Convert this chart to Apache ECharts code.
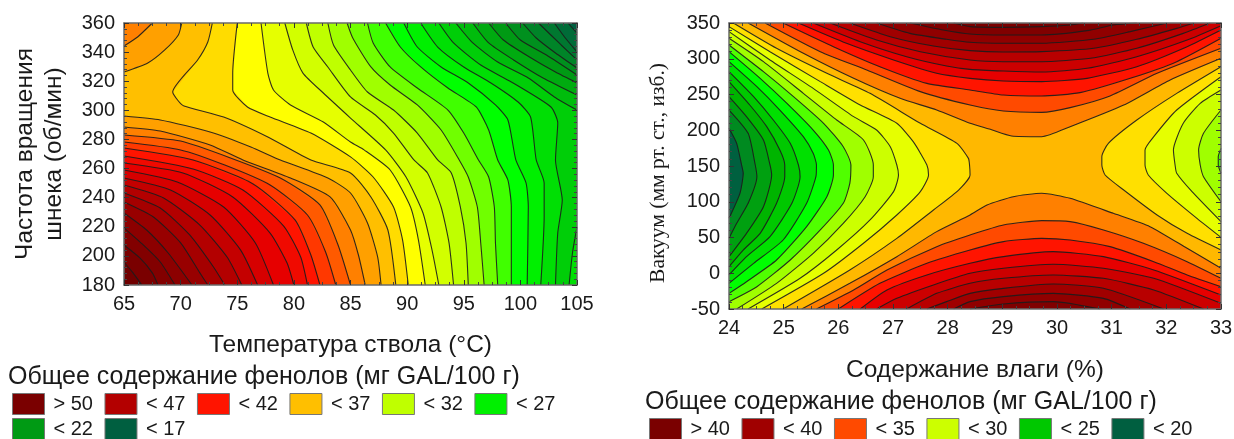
<!DOCTYPE html>
<html><head><meta charset="utf-8">
<style>html,body{margin:0;padding:0;background:#fff}#c{width:1234px;height:439px}</style>
<script src="https://cdn.jsdelivr.net/npm/echarts@6/dist/echarts.min.js"></script>
</head><body><div id="c"></div>
<script>
/* ---------- left panel: isolines, value level and points [temperature, rpm] ---------- */
const leftLevels = [17,18,19,20,21,22,23,24,25,25,26,27,28,29,30,31,32,33,34,35,36,37,37,38,38,39,40,41,42,43,44,45,46,47,48,49,50,51,52];
const leftLines = [
 [[104.2,360],[105,353.1]],
 [[103,360],[103.9,350.4],[105,340.1]],
 [[101.6,360],[103.6,344.9],[105,334.6]],
 [[100.2,360],[101.4,349.7],[103.1,339.4],[105,329.1]],
 [[98.7,360],[100,348.3],[102.3,338],[105,324.3]],
 [[97.2,360],[98.5,348.3],[100.8,336.6],[103.1,326.3],[105,318.8]],
 [[95.8,360],[97.2,346.3],[99.4,334.6],[102,322.2],[105,310.5]],
 [[94.3,360],[95.8,346.3],[98,333.2],[100.7,322.2],[103,309.2],[105,300.2]],
 [[92.8,360],[94.1,346.3],[96.5,331.1],[99.2,319.5],[102.7,302.3],[103.3,291.3],[103.1,265.9],[103.7,238.4],[103.3,215.7],[103.1,180]],
 [[104.3,180],[104.6,202],[105,219.9]],
 [[91.2,360],[92.7,343.5],[95,329.8],[97.4,318.8],[99.8,305.7],[100.9,295.4],[101.4,265.9],[102.1,250.1],[102.1,226.7],[101.8,180]],
 [[89.7,360],[90.9,343.5],[93,329.8],[95.4,318.8],[97.8,303.7],[98.9,293.4],[99.6,265.9],[100.5,250.1],[100.7,233.6],[100.6,180]],
 [[88.1,360],[89.4,343.5],[91.2,329.8],[93.6,315.3],[96.1,302.3],[97.2,286.5],[98,265.9],[98.9,252.1],[99.2,233.6],[99.2,180]],
 [[86.5,360],[87,346.3],[88.5,329.8],[90.9,315.3],[93.6,300.2],[95,284.4],[96.3,265.9],[97.2,254.2],[97.7,233.6],[97.8,208.9],[98,180]],
 [[84.7,360],[85.2,349.7],[86.8,329.8],[88.5,317.4],[90.9,303.7],[93,286.5],[94.6,265.9],[95.4,254.2],[96.2,233.6],[96.5,208.9],[96.8,180]],
 [[83,360],[83.5,344.9],[85,327.7],[86.5,312.6],[88.8,300.2],[90.9,284.4],[92.7,265.9],[93.9,257],[94.7,233.6],[95.2,208.9],[95.4,180]],
 [[81.1,360],[81.7,343.5],[83,329.8],[85,309.2],[87.2,296.8],[88.8,284.4],[90.6,265.9],[91.8,257],[93,233.6],[93.7,208.9],[94.1,180]],
 [[79.2,360],[79.9,341.5],[80.8,325.6],[82.6,311.9],[85,294.7],[88.1,272.8],[89.9,254.2],[91.4,229.5],[92.2,204],[92.8,180]],
 [[77.1,360],[77.7,325.6],[78.2,314],[79.7,303.7],[82.6,292],[85,278.2],[86.2,272.8],[88.5,259],[90.3,233.6],[91,210.9],[91.6,180]],
 [[75,360],[74.6,325.6],[74.6,314],[75.9,302.3],[77.9,295.4],[81.5,284.4],[85,268],[87,254.2],[88.8,233.6],[89.6,210.9],[90.1,180]],
 [[72.8,360],[72.4,347],[71.5,334.6],[69.3,312.6],[69.8,306.4],[70.3,303],[73.8,295.4],[77.7,281.7],[81.5,265.9],[85,257],[86.8,240.5],[88.3,217.8],[89,180]],
 [[65,296.1],[68.2,293.4],[72.6,285.1],[76.2,274.8],[78.8,265.9],[83,253.5],[85,243.2],[86.5,222.6],[87.4,199.2],[87.7,180]],
 [[70.1,360],[69.8,351.8],[68.6,341.5],[67.1,332.5],[65,326.3]],
 [[65,288.6],[68.2,285.8],[72.6,276.2],[75.5,265.9],[79.7,253.5],[83.2,240.5],[85,217.8],[85.7,200.6],[86.3,180]],
 [[67.5,360],[66.2,350.4],[65,344.2]],
 [[65,283.1],[70,278.9],[74.4,267.3],[78.8,253.5],[82.3,235],[83.9,207.5],[85,180]],
 [[65,278.2],[70,272.8],[73.9,262.4],[77.9,248.7],[81.2,228.1],[82.8,202.7],[83.7,180]],
 [[65,274.1],[71.1,265.9],[76.4,249.4],[80.1,224.7],[81.5,200.6],[82.3,180]],
 [[65,268.6],[71.1,259.7],[75.5,245.3],[79.1,220.5],[80.6,199.2],[81.2,180]],
 [[65,263.8],[70.2,257],[74.6,240.5],[77.9,215.7],[79.4,195.1],[80,180]],
 [[65,259],[69.7,250.8],[73.8,233.6],[76.6,208.9],[78.2,180]],
 [[65,253.5],[69.1,245.3],[72.6,228.1],[75.3,204],[76.8,180]],
 [[65,248.7],[68.5,239.8],[71.7,221.2],[74.1,199.2],[75.4,180]],
 [[65,243.2],[68.2,232.9],[70.8,214.4],[72.9,192.4],[73.9,180]],
 [[65,237],[67.6,226.7],[70,208.9],[71.7,188.3],[72.4,180]],
 [[65,229.5],[67,217.8],[68.9,202],[71,180]],
 [[65,219.2],[66.7,207.5],[68.2,195.8],[69.5,180]],
 [[65,207.5],[66.4,198.6],[67.5,188.3],[68,180]],
 [[65,195.8],[65.8,188.3],[66.57,180]]
];
/* ---------- right panel: isolines, [moisture, vacuum] ---------- */
const highLevels = [33,34,35,36,37,38,39,40,41,42];
const topLines = [
 [[24.35,350],[25.36,307.6],[26.28,272.6],[27.13,244.6],[27.8,228.3],[28.41,209.7],[28.78,201.3],[29.17,192],[29.72,191],[30.24,205],[31.22,235.3],[32.07,270.3],[33,300.6]],
 [[24.66,350],[25.67,309.9],[26.52,284.3],[27.5,254],[28.41,235.3],[29.02,226.9],[29.72,225],[30.24,231.6],[30.97,247.9],[31.83,279.6],[33,314.6]],
 [[24.99,350],[25.91,316.9],[26.76,288.9],[27.62,265.6],[28.41,256.3],[29.02,249.3],[29.72,247.9],[30.42,252.6],[31.34,272.6],[32.19,295.9],[33,328.6]],
 [[25.27,350],[26.15,321.6],[27.01,298.3],[27.8,279.6],[28.41,272.6],[29.02,268.9],[29.72,268],[30.55,272.6],[31.46,288.9],[32.38,316.9],[33,340.2]],
 [[25.54,350],[26.4,323.9],[27.25,302.9],[27.98,289.9],[28.41,285.2],[29.02,282.9],[29.72,281.5],[30.55,286.6],[31.46,302.9],[32.38,326.2],[33,346.3]],
 [[25.85,350],[26.7,326.2],[27.5,309.9],[28.41,298.3],[29.02,295.9],[29.72,295.9],[30.61,300.6],[31.46,314.6],[32.31,335.5],[32.8,350]],
 [[26.21,350],[26.95,330.9],[27.74,317.8],[28.41,311.3],[29.02,309.4],[29.72,309.9],[30.67,314.6],[31.46,327.2],[32.19,342.5],[32.5,350]],
 [[26.7,350],[27.31,335.5],[27.98,327.2],[28.41,323],[29.02,321.6],[29.72,321.6],[30.67,327.2],[31.34,337.9],[32.01,350]],
 [[27.31,350],[27.92,340.2],[28.41,334.6],[29.02,333.2],[29.72,333.2],[30.55,339.3],[31.03,347.2],[31.46,350]],
 [[28.11,350],[28.41,344.9],[29.02,343.9],[29.72,344.9],[30.24,347.2],[30.48,350]]
];
const bottomLevels = [33,34,35,36,37,38,39,40,41];
const bottomLines = [
 [[25.33,-50],[26.21,-14.1],[27.07,23.2],[27.8,58.2],[28.41,81.5],[28.72,95.5],[29.2,107.1],[29.72,111.8],[30.24,104.8],[31.03,83.8],[31.7,65.2],[32.38,34.9],[33,6.9]],
 [[25.6,-50],[26.28,-23.4],[26.89,4.6],[27.8,37.2],[28.41,53.5],[29.02,67.5],[29.72,73.6],[30.24,72.2],[30.85,60.5],[31.58,41.9],[32.38,16.2],[33,-7.1]],
 [[26,-50],[26.76,-14.1],[27.62,13.9],[28.41,32.5],[29.02,44.2],[29.72,48.8],[30.24,46.5],[30.97,37.2],[31.77,16.2],[32.38,-2.4],[33,-18.8]],
 [[26.4,-50],[26.89,-23.4],[27.62,-2.4],[28.41,13.9],[29.02,23.2],[29.93,30.2],[30.85,23.2],[31.77,4.6],[33,-30.4]],
 [[26.7,-50],[27.07,-35.1],[27.74,-16.4],[28.41,-0.1],[29.02,6.9],[29.93,12.5],[30.85,6.9],[31.77,-7.1],[33,-42.1]],
 [[27.25,-50],[27.8,-28.1],[28.41,-14.1],[29.02,-7.1],[29.93,-2.4],[30.85,-7.1],[31.77,-23.4],[32.68,-50]],
 [[27.62,-50],[27.98,-39.7],[28.41,-28.1],[29.02,-21.1],[29.93,-15],[30.85,-21.1],[31.95,-50]],
 [[28.11,-50],[28.41,-39.7],[29.02,-32.7],[29.93,-28.1],[30.85,-35.1],[31.34,-50]],
 [[28.41,-50],[29.02,-43],[29.93,-39.7],[30.79,-50]]
];
const westLevels = [32,31,30,29,28,27,26,25,24,23,22,21];
const westLines = [
 [[24.08,350],[24.87,314.6],[25.79,279.6],[26.58,251.6],[27.5,209.7],[28.17,181.7],[28.38,160.7],[28.4,151.4],[28.41,137.4],[28.2,116.4],[27.74,88.5],[27.07,48.8],[26.21,4.6],[24.99,-50]],
 [[24,344.9],[24.75,309.9],[25.67,268],[26.4,235.3],[27.07,209.7],[27.37,184],[27.62,151.4],[27.65,137.4],[27.5,114.1],[27.07,81.5],[26.46,41.9],[25.73,-0.1],[24.6,-50]],
 [[24,337.9],[24.75,298.3],[25.54,258.6],[26.28,219],[26.7,200.3],[26.95,177],[27.07,151.4],[27.1,137.4],[27.01,114.1],[26.58,74.5],[25.97,32.5],[25.3,-7.1],[24.35,-50]],
 [[24,328.6],[24.63,295.9],[25.36,251.6],[25.97,214.3],[26.46,186.4],[26.64,151.4],[26.64,135.1],[26.49,107.1],[26.09,69.8],[25.54,27.9],[24.87,-14.1],[24.14,-50]],
 [[24,319.2],[24.63,281.9],[25.18,247],[25.73,209.7],[26.09,177],[26.23,151.4],[26.21,125.8],[26.09,97.8],[25.67,60.5],[25.12,18.5],[24.51,-18.8],[24,-39.7]],
 [[24,310],[24.57,272.6],[25.06,237.6],[25.54,200.3],[25.82,172.4],[25.91,151.4],[25.91,137.4],[25.79,107.1],[25.42,65.2],[24.87,18.5],[24.32,-11.8],[24,-28.1]],
 [[24,296],[24.51,261],[24.93,228.3],[25.36,191],[25.54,167.7],[25.6,151.4],[25.59,135.1],[25.42,97.8],[24.99,46.5],[24.45,13.9],[24,-14.1]],
 [[24,282],[24.45,247],[24.81,214.3],[25.12,181.7],[25.27,151.4],[25.3,135.1],[25.15,97.8],[24.75,51.2],[24.32,23.2],[24,-2.4]],
 [[24,268],[24.38,235.3],[24.69,205],[24.93,172.4],[25.02,151.4],[25.02,135.1],[24.87,97.8],[24.57,55.8],[24.26,32.5],[24,9.2]],
 [[24,247],[24.32,219],[24.63,186.4],[24.75,151.4],[24.78,137.4],[24.63,93.1],[24.32,55.8],[24,23.2]],
 [[24,228.3],[24.35,195.7],[24.48,151.4],[24.51,135.1],[24.35,97.8],[24.14,69.8],[24,48.8]],
 [[24,202.7],[24.14,181.7],[24.23,151.4],[24.26,139.8],[24.2,111.8],[24,76.8]]
];
const eastLevels = [32,31,30,29,28];
const eastLines = [
 [[33,288.9],[32.19,251.6],[31.46,214.3],[30.94,181.7],[30.82,163],[30.82,151.4],[30.88,137.4],[31.22,116.4],[31.83,81.5],[32.38,55.8],[33,32.5]],
 [[33,274.9],[32.19,228.3],[31.77,191],[31.61,172.4],[31.61,151.4],[31.67,137.4],[32.01,111.8],[32.56,76.8],[33,50.2]],
 [[33,256.3],[32.62,237.6],[32.31,209.7],[32.13,172.4],[32.16,151.4],[32.19,139.8],[32.47,114.1],[33,72.2]],
 [[33,228.3],[32.68,195.7],[32.59,172.4],[32.62,151.4],[32.68,135.1],[33,100.1]],
 [[33,174.7],[32.95,163],[32.95,151.4],[33,139.8]]
];
/* ---------- tick & legend labels ---------- */
const leftLegendRow1 = ['> 50','< 47','< 42','< 37','< 32','< 27'];
const leftLegendRow2 = ['< 22','< 17'];
const leftLegendNames = [...leftLegendRow1,...leftLegendRow2];
const rightLegendNames = ['> 40','< 40','< 35','< 30','< 25','< 20'];
const legendHeading = 'Общее содержание фенолов (мг GAL/100 г)';

/* ---------- palettes (band upper bound → colour) ---------- */
const leftPalette = {17:'#005f40',18:'#006c38',19:'#007830',20:'#008428',21:'#00901e',22:'#009a14',23:'#00ab10',24:'#00bc0c',25:'#00ce08',26:'#00df04',27:'#00f000',28:'#00ff00',29:'#40ff00',30:'#70ff00',31:'#a0ff00',32:'#bfff00',33:'#d2ff00',34:'#e6ff00',35:'#ffff00',36:'#ffdc00',37:'#ffbf00',38:'#ffa000',39:'#ff8000',40:'#ff5a00',41:'#ff3800',42:'#ff1400',43:'#f00a00',44:'#e60000',45:'#d60000',46:'#c40000',47:'#b30000',48:'#a50000',49:'#980000',50:'#8c0000',51:'#820000',52:'#7a0000',53:'#700000'};
const rightPalette = {21:'#00603f',22:'#008a20',23:'#00a010',24:'#00b400',25:'#00c800',26:'#00e000',27:'#00ff00',28:'#50ff00',29:'#a0ff00',30:'#ccff00',31:'#e6ff00',32:'#ffe000',33:'#ffb800',34:'#ff8000',35:'#ff4a00',36:'#ff1400',37:'#e60000',38:'#cc0000',39:'#b80000',40:'#a00000',41:'#900000',42:'#800000',43:'#7a0000'};
const leftLegendColors = ['#7a0000','#b30000','#ff1400','#ffbf00','#bfff00','#00f000','#009a14','#005f40'];
const rightLegendColors = ['#7a0000','#a00000','#ff4a00','#ccff00','#00c800','#005f40'];

/* region on the right-hand side of a directed line, closed along the plot frame */
function region(line, box){
  const [x0,x1,y0,y1]=box, w=x1-x0, h=y1-y0;
  const t=p=>p[0]===x0?(p[1]-y0)/h:p[1]===y1?1+(p[0]-x0)/w:p[0]===x1?2+(y1-p[1])/h:3+(x1-p[0])/w;
  const corners=[[x0,y0],[x0,y1],[x1,y1],[x1,y0]];
  const pts=line.slice(), te=t(line[line.length-1]); let ts=t(line[0]);
  if(ts<te) ts+=4;
  for(let k=Math.floor(te)+1;k<ts;k++) pts.push(corners[k%4]);
  return pts;
}
const rev=a=>a.slice().reverse();
const leftBox=[65,105,180,360], rightBox=[24,33,-50,350];
const frame=b=>[[b[0],b[2]],[b[0],b[3]],[b[1],b[3]],[b[1],b[2]]];

const leftFills=[{pts:frame(leftBox),color:leftPalette[17]}];
leftLines.forEach((l,i)=>leftFills.push({pts:region(l,leftBox),color:leftPalette[leftLevels[i]+1]}));

const rightFills=[{pts:frame(rightBox),color:rightPalette[33]}];
const highPieces=[];
highLevels.forEach((lv,i)=>{
  highPieces.push({lv,pts:region(rev(topLines[i]),rightBox)});
  const j=bottomLevels.indexOf(lv);
  if(j>=0) highPieces.push({lv,pts:region(bottomLines[j],rightBox)});
});
highPieces.forEach(p=>rightFills.push({pts:p.pts,color:rightPalette[p.lv+1]}));
westLevels.forEach((lv,i)=>{
  rightFills.push({pts:region(westLines[i],rightBox),color:rightPalette[lv]});
  const j=eastLevels.indexOf(lv);
  if(j>=0) rightFills.push({pts:region(rev(eastLines[j]),rightBox),color:rightPalette[lv]});
});

const fillSeries=(fills,idx)=>({
  type:'custom',coordinateSystem:'cartesian2d',xAxisIndex:idx*2,yAxisIndex:idx*2,silent:true,animation:false,clip:true,z:2,
  data:fills.map((f,i)=>[f.pts[0][0],f.pts[0][1],i]),
  renderItem:(p,api)=>{
    const f=fills[p.dataIndex];
    return {type:'polygon',shape:{points:f.pts.map(q=>api.coord(q))},style:{fill:f.color,stroke:f.color,lineWidth:0.5}};
  }
});
const lineSeries=(line,idx)=>({
  type:'line',xAxisIndex:idx*2,yAxisIndex:idx*2,data:line,symbol:'none',silent:true,animation:false,z:3,smooth:0.2,
  lineStyle:{color:'#1c1c1c',width:1.1,opacity:0.9},itemStyle:{color:'#1c1c1c'}
});
const legendSeries=(n,c)=>({type:'custom',name:n,coordinateSystem:'none',data:[],itemStyle:{color:c},renderItem:()=>null});

const series=[fillSeries(leftFills,0),fillSeries(rightFills,1)];
leftLines.forEach(l=>series.push(lineSeries(l,0)));
[...topLines,...bottomLines,...westLines,...eastLines].forEach(l=>series.push(lineSeries(l,1)));
leftLegendNames.forEach((n,i)=>series.push(legendSeries(n,leftLegendColors[i])));
rightLegendNames.forEach((n,i)=>series.push(legendSeries(n,rightLegendColors[i])));

const TXT='#1a1a1a', AX='#6a6a6a';
const axisBase=(gridIndex,position,min,max,interval,minor,show)=>({
  type:'value',gridIndex,position,min,max,interval,z:6,scale:true,splitLine:{show:false},
  axisLine:{show:true,onZero:false,lineStyle:{color:AX,width:1.5}},
  axisTick:{show:true,inside:true,length:5,lineStyle:{color:'#333',width:1}},
  minorTick:{show:true,splitNumber:minor,length:3,lineStyle:{color:'#444',width:1}},
  axisLabel:{show,fontFamily:'Liberation Sans',fontSize:20,color:TXT,margin:9,hideOverlap:false,showMinLabel:true,showMaxLabel:true}
});
const named=(a,name,gap,font,size,rotate,padding)=>Object.assign(a,{name,nameLocation:'middle',nameGap:gap,nameRotate:rotate,
  nameTextStyle:{fontFamily:font,fontSize:size,color:TXT,lineHeight:29,padding:padding||0}});

const legendBase=(names,left,top)=>({data:names.map(n=>({name:n,icon:'rect'})),left,top,orient:'horizontal',padding:0,
  itemWidth:32,itemHeight:21,itemGap:11.5,selectedMode:false,itemStyle:{borderColor:'#777',borderWidth:1},
  textStyle:{fontFamily:'Liberation Sans',fontSize:20,color:TXT,padding:[0,0,0,4]}});
const option={
  animation:false,backgroundColor:'#fff',
  grid:[{left:124,top:23,width:453,height:262,outerBoundsMode:'none'},{left:729,top:23,width:492,height:286,outerBoundsMode:'none'}],
  xAxis:[
    named(axisBase(0,'bottom',65,105,5,4,true),'Температура ствола (°C)',46,'Liberation Sans',24.5,0),
    axisBase(0,'top',65,105,5,4,false),
    named(axisBase(1,'bottom',24,33,1,4,true),'Содержание влаги (%)',47,'Liberation Sans',24.5,0),
    axisBase(1,'top',24,33,1,4,false)
  ],
  yAxis:[
    named(axisBase(0,'left',180,360,20,5,true),'Частота вращения\nшнека (об/мин)',55,'Liberation Sans',24.5,90),
    axisBase(0,'right',180,360,20,5,false),
    named(axisBase(1,'left',-50,350,50,5,true),'Вакуум (мм рт. ст., изб.)',56,'Liberation Serif',21.5,90,[0,14,0,0]),
    axisBase(1,'right',-50,350,50,5,false)
  ],
  title:[
    {text:legendHeading,left:8,top:365,padding:0,textStyle:{fontFamily:'Liberation Sans',fontSize:25,fontWeight:'normal',color:TXT}},
    {text:legendHeading,left:645,top:390,padding:0,textStyle:{fontFamily:'Liberation Sans',fontSize:25,fontWeight:'normal',color:TXT}}
  ],
  legend:[legendBase(leftLegendRow1,12,393),legendBase(leftLegendRow2,12,418),legendBase(rightLegendNames,649,418)],
  series
};
echarts.init(document.getElementById('c'),null,{renderer:'canvas'}).setOption(option);
</script></body></html>
